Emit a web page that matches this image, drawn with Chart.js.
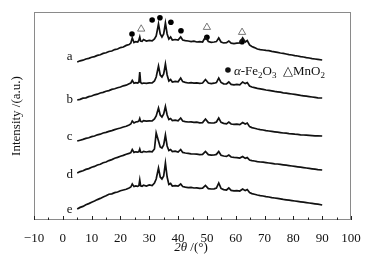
<!DOCTYPE html>
<html>
<head>
<meta charset="utf-8">
<script src="https://cdn.jsdelivr.net/npm/chart.js@4.4.0/dist/chart.umd.min.js"></script>
<style>
  html, body { margin: 0; padding: 0; background: #fff; }
</style>
</head>
<body>
<canvas id="xrdChart" width="371" height="259"></canvas>
<script>
// 2theta sampling points (deg), shared by all five patterns
const twoTheta = [5,6,7,8,9,10,11,12,13,14,15,16,17,18,19,20,21,22,23,
  23.6,24.1,24.7,25.3,26,26.4,26.7,27,27.5,28,29,30,31,
  31.8,32.4,33.2,33.8,34.4,35,35.6,36.2,36.8,37.4,38,39,40,40.9,41.6,
  42.5,43.5,44.5,45.5,46.5,47.5,48.5,49.5,50.5,51.5,52.5,
  53.3,54.1,54.9,55.8,56.8,57.6,58.4,59.4,60.4,61.4,62.4,63.3,64,64.8,65.6,
  66.5,67.5,68.5,69.5,70.5,71.5,72.5,73.5,74.5,75.5,76.5,77.5,78.5,79.5,
  80.5,81.5,82.5,83.5,84.5,85.5,86.5,87.5,88.5,90];

// intensities (a.u., already stacked)
const curveA = [158,159.2,159.8,161,161.6,162.8,163.4,164.6,165.2,166.6,167.2,168.5,169,170.4,171,172.4,173,174.6,175.4,
  177,182,177.5,178.4,178,180,183,179,178.6,180.5,179,179.6,179.2,
  181,184,196,186,183,186,197,186,181,183,180,180.5,180,183,180,
  179.4,179,178.4,178.8,178,178.4,178,183,178.5,177.6,178,
  178.4,182,178,177,177.4,179,176.8,176.4,176.8,177,182,178,179.5,175,173.5,
  172.4,171,170.4,170,169.6,169.4,168.6,168.2,167.6,167,166.6,166,165.4,165,
  164.4,164,163.4,163,162.4,162,161.4,161,160.6,160];
const curveB = [120,120.6,121.8,122.2,123.4,124,125.2,125.8,127,127.6,128.8,129.4,130.6,131.2,132.2,133,134.2,134.8,136.2,
  137,139.5,136.8,137.4,137,138,148,137.5,136.4,137,136.6,137.2,137,
  139,143,154,145,143,146,156,145,139,140.5,138,138.6,138.2,142,138.4,
  137.6,137,137.4,136.8,137.2,136.6,137,140.5,137,136.4,136.8,
  137.4,142,137.6,136.2,136,138,135.6,135.2,135.6,135.2,138,136.4,137.4,134,133,
  132.4,131.6,131.2,130.6,130,129.6,129.2,128.6,128.2,127.8,127.2,126.8,126.4,126,
  125.6,125.2,124.6,124.2,123.8,123.4,123,122.6,122.2,122];
const curveC = [79,79.8,80.6,81.6,82.2,83.4,84,85.2,85.8,87,87.6,88.6,89.4,90.4,91.2,92,93,93.8,95,
  96,99,97,98,98.4,99,101.5,98.6,98.2,99.4,98.8,99.2,99,
  101,104,112,105,103,106,113.5,105,100.5,101.5,99.5,99.8,99.2,102,99,
  98.4,98,98.2,97.6,97.8,97.2,97.4,101,97.4,97,97.2,
  98,102,97.6,96.6,96.2,98,96,95.6,95.8,95.4,97.5,96,97,93.4,92.4,
  91.8,91,90.4,90,89.4,89,88.6,88.2,87.8,87.4,87,86.8,86.4,86.2,
  85.8,85.6,85.2,85,84.8,84.6,84.4,84.2,84.2,84];
const curveD = [47,48.4,49.2,50.6,51.4,52.8,53.6,55,55.8,57.2,58,59.4,60.4,61.8,62.6,63.8,64.6,65.8,66.6,
  67.4,70.5,67.6,68.2,67.8,68.4,71,68,67.6,68.6,68,68.6,68.2,
  71,87,79,73,72,75,85,74,69.5,70.5,68.4,68.8,68,70.5,67.6,
  67,66.6,66.2,66,65.8,65.4,65.6,68.5,65.4,64.8,65,
  65.6,68.5,64.8,64,63.6,65,63,62.6,62.4,62,63.5,61.6,62.4,60,59.4,
  59,58.4,58,57.8,57.4,57,56.6,56.2,56,55.6,55.2,54.8,54.4,54,
  53.6,53.2,52.8,52.4,52,51.6,51.2,50.8,50.4,50];
const curveE = [11,12.6,13.6,15.2,16.4,17.8,19,20.4,21.6,23,24.2,25.8,26.2,27.4,28,29.2,30,30.8,32,
  33,36,33.4,34,33.6,34.4,40,34.2,33.8,34.8,34,35,34.4,
  37,41,52,43,41,44,57,43,35.5,36.5,34,34.4,33.8,36,33.4,
  32.8,32.4,32.6,32,32.2,31.6,31.8,34.5,31.4,31,31.2,
  32,37,31.6,30.4,30,32,29.6,29.2,29.4,29,31,29.4,30.4,27.4,26.4,
  25.8,25,24.4,24,23.4,23,22.4,22,21.6,21.2,20.6,20.2,19.8,19.4,
  19,18.6,18.2,17.8,17.4,17,16.6,16.2,15.8,15];

const sampleNames = ['a', 'b', 'c', 'd', 'e'];
const sampleLabelY = [163, 120, 83, 45, 10];

// phase markers above pattern a
const fe2o3Theta = [24, 31, 33.7, 37.5, 41, 50, 62.2];
const fe2o3Y = [186, 200, 202.3, 197.7, 189.3, 182.7, 178.3];
const mno2Theta = [27.2, 50, 62.2];
const mno2Y = [191, 192.7, 187.7];

const xTicks = [-10, 0, 10, 20, 30, 40, 50, 60, 70, 80, 90, 100];

const serif = 'Liberation Serif';
const toPoints = (xs, ys) => xs.map((x, i) => ({ x: x, y: ys[i] }));

const patternSets = [curveA, curveB, curveC, curveD, curveE].map((c, i) => ({
  label: sampleNames[i],
  data: toPoints(twoTheta, c),
  showLine: true,
  borderColor: '#111',
  borderWidth: 1.7,
  pointRadius: 0,
  tension: 0
}));

// draws the frame, inward ticks, curve letters, legend and x title
const xrdDecor = {
  id: 'xrdDecor',
  afterDraw(chart) {
    const { ctx, chartArea: a, scales: { x, y } } = chart;
    ctx.save();
    ctx.strokeStyle = '#8a8a8a';
    ctx.lineWidth = 1;
    ctx.strokeRect(a.left + 0.5, a.top + 0.5, a.right - a.left - 1, a.bottom - a.top - 1);

    ctx.strokeStyle = '#222';
    for (let i = 0; i < xTicks.length; i++) {
      const px = Math.round(x.getPixelForValue(xTicks[i])) + 0.5;
      ctx.beginPath(); ctx.moveTo(px, a.bottom); ctx.lineTo(px, a.bottom - 4); ctx.stroke();
      if (i < xTicks.length - 1) {
        const mx = Math.round(x.getPixelForValue((xTicks[i] + xTicks[i + 1]) / 2)) + 0.5;
        ctx.beginPath(); ctx.moveTo(mx, a.bottom); ctx.lineTo(mx, a.bottom - 2.5); ctx.stroke();
      }
    }

    ctx.fillStyle = '#111';
    ctx.textAlign = 'center';
    ctx.textBaseline = 'middle';
    ctx.font = '13px "' + serif + '"';
    sampleNames.forEach((n, i) => {
      ctx.fillText(n, x.getPixelForValue(2.4), y.getPixelForValue(sampleLabelY[i]));
    });

    // legend
    const lx = x.getPixelForValue(57.3);
    const ly = y.getPixelForValue(150);
    ctx.beginPath(); ctx.arc(lx, ly, 2.8, 0, Math.PI * 2); ctx.fill();
    const runs = [
      ['\u03b1', 'i'], ['-Fe', 'n'], ['2', 's'], ['O', 'n'], ['3', 's'],
      ['  \u25b3MnO', 'n'], ['2', 's']
    ];
    ctx.textAlign = 'left';
    ctx.textBaseline = 'alphabetic';
    let cx = lx + 6;
    const base = ly + 4.5;
    runs.forEach(([t, s]) => {
      if (s === 's') {
        ctx.font = '9px "' + serif + '"';
        ctx.fillText(t, cx, base + 3);
      } else {
        ctx.font = (s === 'i' ? 'italic ' : '') + '13px "' + serif + '"';
        ctx.fillText(t, cx, base);
      }
      cx += ctx.measureText(t).width;
    });

    // x axis title
    ctx.font = 'italic 13px "' + serif + '"';
    const t1 = '2\u03b8';
    const t2 = ' /(\u00b0)';
    const w1 = ctx.measureText(t1).width;
    ctx.font = '13px "' + serif + '"';
    const w2 = ctx.measureText(t2).width;
    const startX = 191 - (w1 + w2) / 2;
    ctx.textBaseline = 'middle';
    ctx.font = 'italic 13px "' + serif + '"';
    ctx.fillText(t1, startX, 248);
    ctx.font = '13px "' + serif + '"';
    ctx.fillText(t2, startX + w1, 248);
    ctx.restore();
  }
};

new Chart(document.getElementById('xrdChart').getContext('2d'), {
  type: 'scatter',
  data: {
    datasets: patternSets.concat([
      {
        label: 'alpha-Fe2O3',
        data: toPoints(fe2o3Theta, fe2o3Y),
        pointStyle: 'circle',
        pointRadius: 2.8,
        backgroundColor: '#000',
        borderWidth: 0
      },
      {
        label: 'MnO2',
        data: toPoints(mno2Theta, mno2Y),
        pointStyle: 'triangle',
        pointRadius: 4.2,
        backgroundColor: '#fff',
        borderColor: '#555',
        borderWidth: 0.8
      }
    ])
  },
  options: {
    responsive: false,
    animation: false,
    devicePixelRatio: 1,
    layout: { padding: { top: 12, right: 20, left: 0, bottom: 0 } },
    plugins: {
      legend: { display: false },
      tooltip: { enabled: false }
    },
    scales: {
      x: {
        type: 'linear',
        min: -10,
        max: 100,
        afterBuildTicks: axis => { axis.ticks = xTicks.map(v => ({ value: v })); },
        afterFit: s => { s.height = 39; },
        grid: { display: false },
        border: { display: false },
        ticks: {
          color: '#111',
          font: { family: serif, size: 13 },
          padding: 3,
          maxRotation: 0,
          callback: v => (v < 0 ? '\u2212' + Math.abs(v) : String(v))
        }
      },
      y: {
        min: 0,
        max: 208,
        afterFit: s => { s.width = 34; },
        grid: { display: false },
        border: { display: false },
        ticks: { display: false },
        title: {
          display: true,
          text: 'Intensity /(a.u.)',
          color: '#111',
          font: { family: serif, size: 13 },
          padding: { top: 9, bottom: 0 }
        }
      }
    }
  },
  plugins: [xrdDecor]
});
</script>
</body>
</html>
